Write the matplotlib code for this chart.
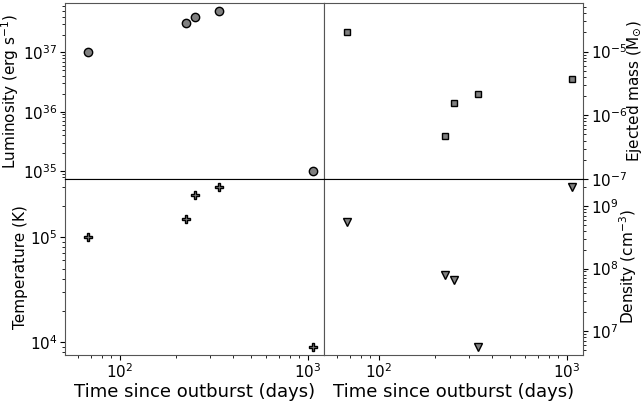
import matplotlib
matplotlib.use("Agg")
import matplotlib.pyplot as plt

# Observed quantities vs time since outburst
days = [68, 225, 252, 337, 1065]
luminosity = [1.0e37, 3.1e37, 4.0e37, 5.0e37, 1.0e35]      # erg/s
temperature = [1.0e5, 1.5e5, 2.5e5, 3.0e5, 9.0e3]          # K
ejected_mass = [2.0e-5, 4.65e-7, 1.54e-6, 2.16e-6, 3.65e-6]  # Msun
density = [5.6e8, 8.0e7, 6.5e7, 5.6e6, 2.0e9]              # cm^-3

plt.rcParams['font.size'] = 11

fig, axes = plt.subplots(2, 2, figsize=(6.43, 4.01), dpi=100)
plt.subplots_adjust(left=65/643, right=583/643, top=1-3/401, bottom=1-355/401,
                    hspace=0, wspace=0)
ax_l, ax_m = axes[0]
ax_t, ax_d = axes[1]

kw = dict(color='grey', markeredgecolor='black', linestyle='none')
ax_l.plot(days, luminosity, marker='o', markersize=6, **kw)
ax_t.plot(days, temperature, marker='P', markersize=6, **kw)
ax_m.plot(days, ejected_mass, marker='s', markersize=5, **kw)
ax_d.plot(days, density, marker='v', markersize=6, **kw)

for ax in axes.flat:
    ax.set_xscale('log')
    ax.set_yscale('log')
    ax.set_xlim(51, 1220)
    ax.tick_params(which='both', pad=2)
    for s in ax.spines.values():
        s.set_color('#555555')

ax_m.set_ylim(1e-7, 5.8e-5)

# top row: no x ticks, dark shared edge
for ax in (ax_l, ax_m):
    ax.tick_params(axis='x', which='both', bottom=False, labelbottom=False)
    ax.spines['bottom'].set_color('black')
for ax in (ax_t, ax_d):
    ax.spines['top'].set_color('black')

# right column: y axis on the right
for ax in (ax_m, ax_d):
    ax.yaxis.tick_right()
    ax.yaxis.set_label_position('right')

ax_l.set_ylabel(r'Luminosity (erg s$^{-1}$)', labelpad=1)
ax_t.set_ylabel('Temperature (K)', labelpad=1)
ax_m.set_ylabel(r'Ejected mass (M$_{\odot}$)', labelpad=-1)
ax_d.set_ylabel(r'Density (cm$^{-3}$)', labelpad=-1)
ax_t.set_xlabel('Time since outburst (days)', fontsize=13, labelpad=1)
ax_d.set_xlabel('Time since outburst (days)', fontsize=13, labelpad=1)

plt.savefig('out.png', dpi=100)
